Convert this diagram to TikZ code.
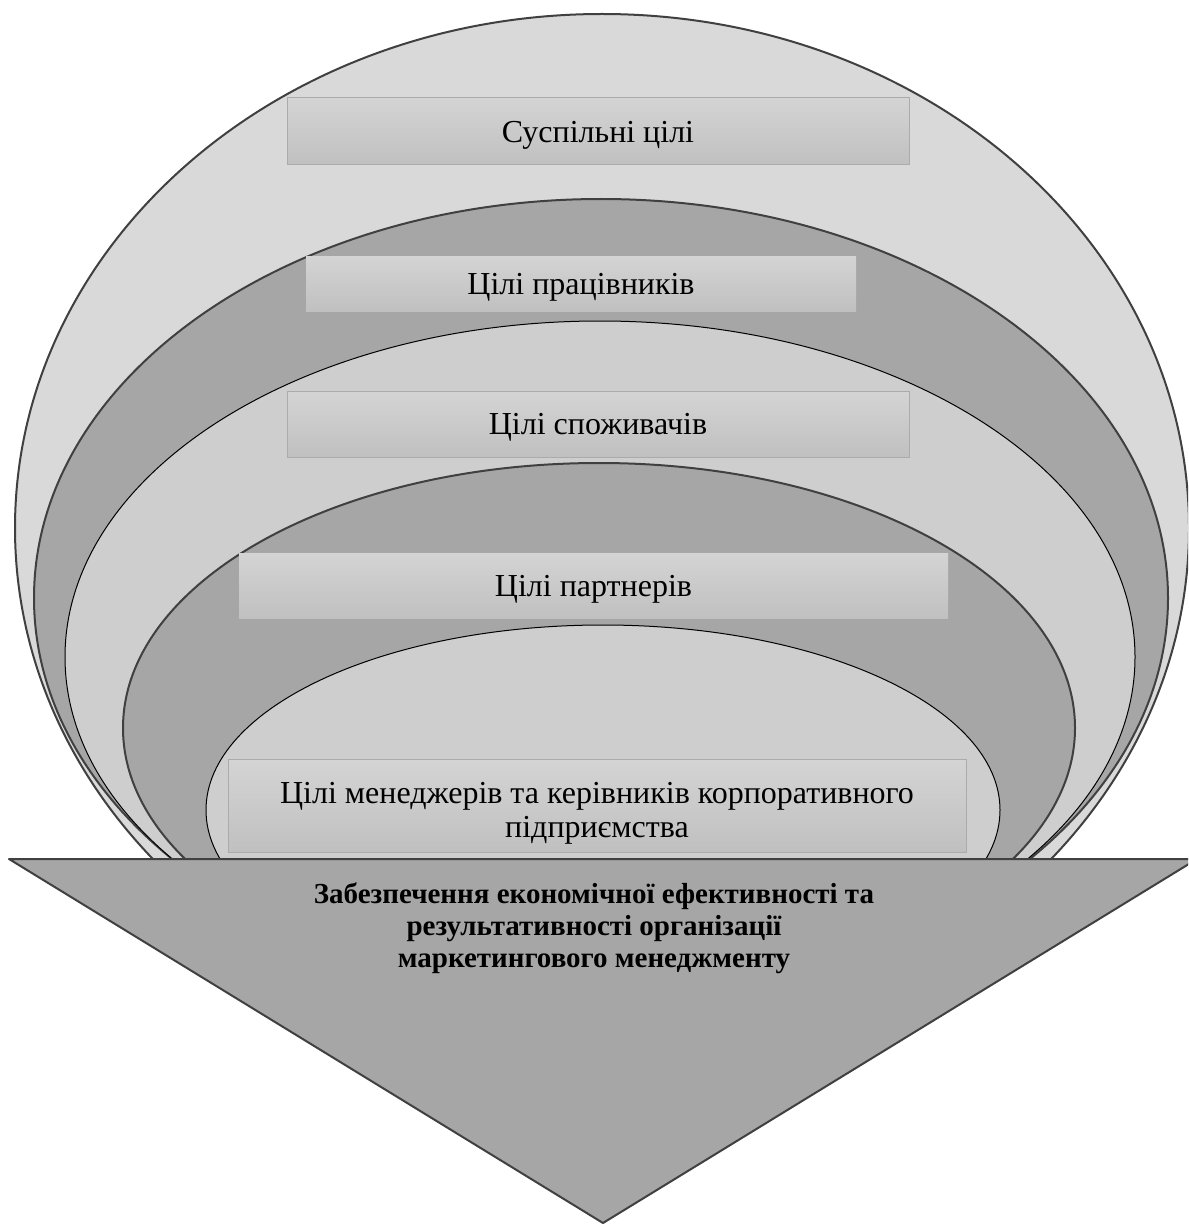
\documentclass[tikz,border=0pt]{standalone}
\usepackage{fontspec}
\setmainfont{Liberation Serif}
\usetikzlibrary{calc}
\newcommand{\pxsize}{0.5pt}
\definecolor{outerfill}{HTML}{D9D9D9}
\definecolor{darkfill}{HTML}{A6A6A6}
\definecolor{innerfill}{HTML}{CECECE}
\definecolor{edgegray}{HTML}{404040}
\definecolor{boxtop}{HTML}{D4D4D4}
\definecolor{boxbottom}{HTML}{C0C0C0}
\definecolor{boxedge}{HTML}{ABABAB}
\newcommand{\makelayer}[6]{
	\begin{scope}
	\clip (0,0) rectangle (1188,859);
	\filldraw[fill=#4, draw=#5, line width=#6] (#1) ellipse [x radius=#2, y radius=#3];
	\end{scope}
}

\begin{document}
\begin{tikzpicture}[x=\pxsize,y=-\pxsize,
	goalbox/.style={shade, top color=boxtop, bottom color=boxbottom, draw=boxedge,
		line width=0.5pt, inner sep=0pt, align=center, text depth=0pt,
		font=\fontsize{16}{17}\selectfont},
	plainbox/.style={goalbox, draw=none}]
	\clip (0,0) rectangle (1188,1225);
	\fill[white] (0,0) rectangle (1188,1225);
	\coordinate (c1) at (602,528);
	\coordinate (c2) at (601,598);
	\coordinate (c3) at (600,657);
	\coordinate (c4) at (599,728);
	\coordinate (c5) at (603,810);

	\makelayer{c1}{587}{514}{outerfill}{edgegray}{1pt}
	\makelayer{c2}{567}{399}{darkfill}{edgegray}{1pt}
	\makelayer{c3}{535}{336}{innerfill}{black}{0.5pt}
	\makelayer{c4}{476}{265}{darkfill}{edgegray}{1pt}
	\makelayer{c5}{397}{185}{innerfill}{black}{0.5pt}

	\node[goalbox, minimum width=311pt, minimum height=33.5pt] (society) at (598,131.5) {Суспільні цілі};
	\node[plainbox, minimum width=275pt, minimum height=27.5pt] (staff) at (581,283.5) {Цілі працівників};
	\node[goalbox, minimum width=311pt, minimum height=33pt] (consumers) at (598,424) {Цілі споживачів};
	\node[plainbox, minimum width=354.5pt, minimum height=32.5pt] (partners) at (593.5,585.5) {Цілі партнерів};
	\node[goalbox, minimum width=369pt, minimum height=46.5pt, text height=32pt] (managers) at (597,805.5)
		{Цілі менеджерів та керівників корпоративного\\підприємства};

	\coordinate (tl) at (9,859);
	\coordinate (tr) at (1197,859);
	\coordinate (apex) at (603,1223);
	\filldraw[fill=darkfill, draw=edgegray, line width=1pt, line join=round] (tl) -- (tr) -- (apex) -- cycle;

	\node[align=center, font=\bfseries\fontsize{14.5}{16}\selectfont] (result) at (594,928)
		{Забезпечення економічної ефективності та\\результативності організації\\маркетингового менеджменту};

	\end{tikzpicture}
\end{document}
